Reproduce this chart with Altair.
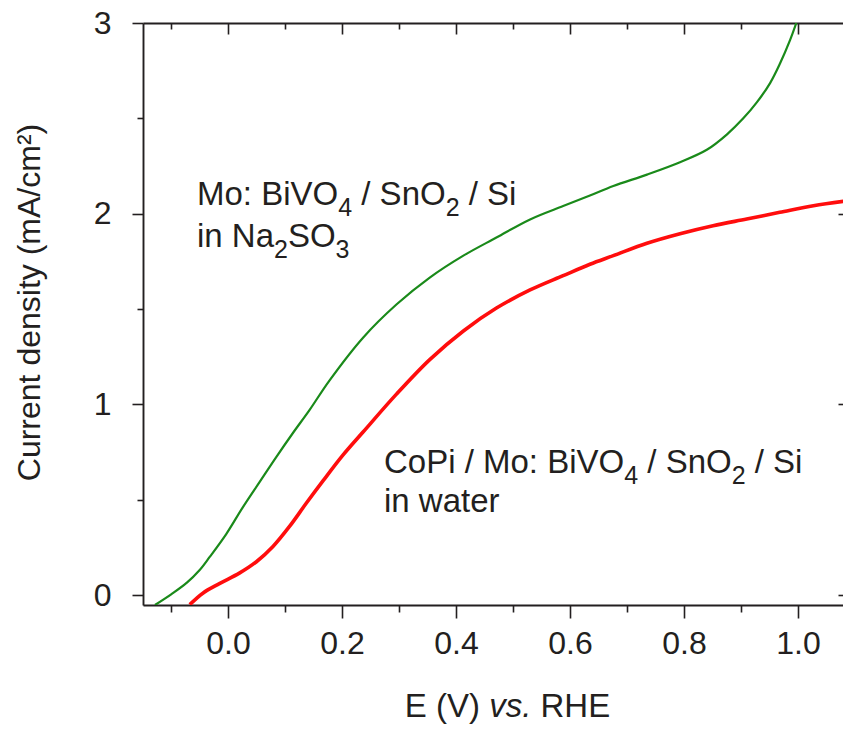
import altair as alt
import pandas as pd

# ---- data ----
green_E = [-0.128, -0.099, -0.072, -0.050, -0.032, -0.003, 0.026, 0.056, 0.085, 0.114,
           0.143, 0.178, 0.237, 0.296, 0.354, 0.413, 0.471, 0.530, 0.588, 0.635,
           0.676, 0.735, 0.793, 0.840, 0.875, 0.904, 0.928, 0.951, 0.968, 0.986, 0.997]
green_J = [-0.052, 0.005, 0.065, 0.13, 0.20, 0.32, 0.46, 0.595, 0.725, 0.85,
           0.97, 1.125, 1.35, 1.525, 1.665, 1.78, 1.875, 1.97, 2.04, 2.095,
           2.145, 2.205, 2.27, 2.335, 2.415, 2.50, 2.585, 2.685, 2.785, 2.91, 3.0]

red_E = [-0.067, -0.044, -0.015, 0.020, 0.050, 0.079, 0.108, 0.137, 0.167, 0.202,
         0.237, 0.296, 0.354, 0.413, 0.471, 0.530, 0.588, 0.635, 0.676, 0.735,
         0.793, 0.851, 0.910, 0.968, 1.027, 1.080]
red_J = [-0.05, 0.01, 0.06, 0.115, 0.175, 0.255, 0.36, 0.48, 0.60, 0.735,
         0.855, 1.055, 1.235, 1.385, 1.505, 1.60, 1.675, 1.735, 1.78, 1.845,
         1.895, 1.937, 1.972, 2.007, 2.042, 2.065]

x_major = [0.0, 0.2, 0.4, 0.6, 0.8, 1.0]
x_minor = [-0.1, 0.1, 0.3, 0.5, 0.7, 0.9]
y_major = [0, 1, 2, 3]
y_minor = [0.5, 1.5, 2.5]
y_right = [0, 1, 2]

y_title = "Current density (mA/cm²)"
x_title_parts = [("E (V) ", "normal"), ("vs.", "italic"), (" RHE", "normal")]
ann1_lines = [[("Mo: BiVO", 0), ("4", 1), (" / SnO", 0), ("2", 1), (" / Si", 0)],
              [("in Na", 0), ("2", 1), ("SO", 0), ("3", 1)]]
ann2_lines = [[("CoPi / Mo: BiVO", 0), ("4", 1), (" / SnO", 0), ("2", 1), (" / Si", 0)],
              [("in water", 0)]]

# ---- layout / style ----
FONT = "Liberation Sans"
INK = "#231f20"
GREEN = "#1a8a1a"
RED = "#ff0d0d"
W, H = 700, 582
PAD_L, PAD_T = 143, 23
X_DOMAIN = [-0.149, 1.0789]
Y_DOMAIN = [-0.052, 3.0]

# Arial / Liberation Sans advance widths (per 1000 em)
ADV = {' ': 278, '(': 333, ')': 333, '/': 278, '.': 278, ':': 278,
       'A': 667, 'B': 667, 'C': 722, 'E': 667, 'H': 722, 'M': 833, 'N': 722,
       'O': 778, 'P': 667, 'R': 722, 'S': 667, 'V': 667,
       'a': 556, 'c': 500, 'e': 556, 'i': 222, 'n': 556, 'o': 556, 'r': 333,
       's': 500, 't': 278, 'w': 722, 'v': 500}
for d in "0123456789":
    ADV[d] = 556


def tw(s, size):
    return sum(ADV.get(c, 556) for c in s) * size / 1000.0


xs = alt.Scale(domain=X_DOMAIN, nice=False, zero=False)
ys = alt.Scale(domain=Y_DOMAIN, nice=False, zero=False)

AX = dict(domainColor=INK, tickColor=INK, tickWidth=1.6, domainWidth=1.9,
          labelFont=FONT, labelFontSize=32, labelColor=INK, grid=False,
          labelFlush=False, labelOverlap=False, labelBound=False)


def ax(**kw):
    base = dict(AX)
    base.update(kw)
    base.setdefault("title", None)
    return alt.Axis(**base)


green = pd.DataFrame({"E": green_E, "J": green_J})
red = pd.DataFrame({"E": red_E, "J": red_J})

l_green = alt.Chart(green).mark_line(color=GREEN, strokeWidth=2.2, interpolate="catmull-rom", clip=True).encode(
    x=alt.X("E:Q", scale=xs, axis=ax(orient="bottom", values=x_major, tickSize=13,
                                      labelPadding=35, labelBaseline="alphabetic", format=".1f")),
    y=alt.Y("J:Q", scale=ys, axis=ax(orient="left", values=y_major, tickSize=11, labelPadding=21,
                                      format="d", title=y_title, titleFont=FONT, titleFontSize=32,
                                      titleFontWeight="normal", titleColor=INK, titleAngle=270,
                                      titleBaseline="alphabetic", titleAlign="center",
                                      titleX=-104, titleY=279)),
)

l_red = alt.Chart(red).mark_line(color=RED, strokeWidth=3.6, interpolate="catmull-rom", clip=True).encode(
    x=alt.X("E:Q", scale=xs, axis=ax(orient="bottom", values=x_minor, tickSize=7,
                                      labels=False, domain=False)),
    y=alt.Y("J:Q", scale=ys, axis=ax(orient="left", values=y_minor, tickSize=6,
                                      labels=False, domain=False)),
)

l_top_major = alt.Chart(red).mark_line(opacity=0).encode(
    x=alt.X("E:Q", scale=xs, axis=ax(orient="top", values=x_major, tickSize=11, offset=-11,
                                      labels=False, domain=False)),
    y=alt.Y("J:Q", scale=ys, axis=ax(orient="right", values=y_right, tickSize=5, offset=-5,
                                      labels=False, domain=False)),
)

l_top_minor = alt.Chart(red).mark_line(opacity=0).encode(
    x=alt.X("E:Q", scale=xs, axis=ax(orient="top", values=x_minor, tickSize=6, offset=-6,
                                      labels=False, domain=False)),
    y=alt.Y("J:Q", scale=ys, axis=None),
)

l_top_line = alt.Chart(red).mark_line(opacity=0).encode(
    x=alt.X("E:Q", scale=xs, axis=ax(orient="top", ticks=False, labels=False, domain=True)),
    y=alt.Y("J:Q", scale=ys, axis=None),
)


def text_layer(txt, px, py, size, style="normal"):
    # leading whitespace is dropped by the renderer, so advance past it instead
    stripped = txt.lstrip(" ")
    px = px + tw(txt[:len(txt) - len(stripped)], size)
    return alt.Chart(alt.Data(values=[{}])).mark_text(
        text=stripped, font=FONT, fontSize=size, fontStyle=style, color=INK,
        align="left", baseline="alphabetic"
    ).encode(x=alt.value(px - PAD_L), y=alt.value(py - PAD_T))


def annotation(lines, x0, baselines, size, sub_size, drop):
    out = []
    for pieces, base in zip(lines, baselines):
        x = x0
        for txt, sub in pieces:
            s = sub_size if sub else size
            out.append(text_layer(txt, x, base + (drop if sub else 0), s))
            x += tw(txt, s)
    return out


texts = []
texts += annotation(ann1_lines, 197, [205, 247], 33, 25, 11)
texts += annotation(ann2_lines, 384, [473, 512], 33, 25, 11)

# x-axis title with italic "vs."
total = sum(tw(t, 33) for t, _ in x_title_parts)
xx = 507.5 - total / 2
for t, st in x_title_parts:
    texts.append(text_layer(t, xx, 717, 33, st))
    xx += tw(t, 33)

chart = alt.layer(l_green, l_red, l_top_major, l_top_minor, l_top_line, *texts).resolve_axis(
    x="independent", y="independent"
).properties(
    width=W, height=H,
    padding={"left": PAD_L, "top": PAD_T, "right": 0, "bottom": 122},
    autosize=alt.AutoSizeParams(type="none"),
).configure_view(stroke=None).configure(background="white")

chart.save("out.html", embed_options={"renderer": "svg", "actions": False})
